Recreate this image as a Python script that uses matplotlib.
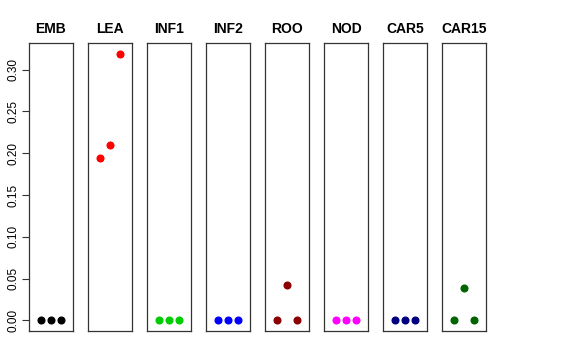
import numpy as np
import matplotlib
matplotlib.use("Agg")
import matplotlib.pyplot as plt

plt.rcParams['font.family'] = ['Liberation Sans', 'DejaVu Sans']

tissues = ["EMB", "LEA", "INF1", "INF2", "ROO", "NOD", "CAR5", "CAR15"]
colores = ["black", "red", "#00CD00", "blue", "#8B0000", "magenta", "#000080", "#006400"]
valores = [
    [0.0, 0.0, 0.0],
    [0.194, 0.210, 0.319],
    [0.0, 0.0, 0.0],
    [0.0, 0.0, 0.0],
    [0.0, 0.042, 0.0],
    [0.0, 0.0, 0.0],
    [0.0, 0.0, 0.0],
    [0.0, 0.039, 0.0],
]
rep = [1, 2, 3]

W, H = 576, 360
fig = plt.figure(figsize=(W / 100, H / 100), dpi=100)

ymax = 0.319
ylim = (-0.04 * ymax, 1.04 * ymax)

for i, (nom, col, vals) in enumerate(zip(tissues, colores, valores)):
    x0 = 29 + i * 59
    ax = fig.add_axes([x0 / W, (H - 331) / H, 44 / W, (331 - 43) / H])
    ax.plot(rep, vals, "o", color=col, markersize=4.8)
    ax.set_xlim(-0.1, 4.1)
    ax.set_ylim(*ylim)
    ax.set_xticks([])
    for s in ax.spines.values():
        s.set_color("#333333")
        s.set_linewidth(0.9)
    ax.set_title(nom, fontsize=10, fontweight="bold", pad=7)
    if i == 0:
        ax.set_yticks(np.arange(0, 0.31, 0.05))
        ax.set_yticklabels(["%.2f" % v for v in np.arange(0, 0.31, 0.05)],
                           rotation=90, va="center", fontsize=8.5)
        ax.tick_params(axis="y", length=5, width=0.8, pad=2, color="#333333")
    else:
        ax.set_yticks([])

fig.savefig("out.png", dpi=100)
